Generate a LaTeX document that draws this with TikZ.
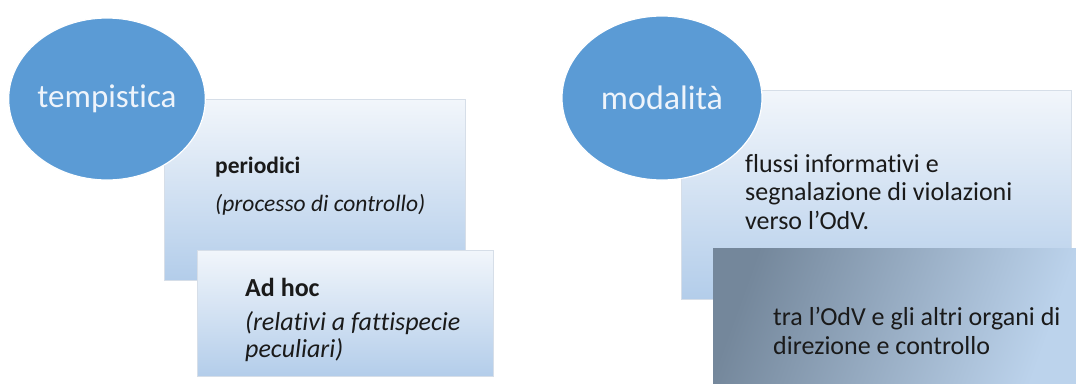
\documentclass[tikz,border=0pt]{standalone}
\usepackage{fontspec}
\setmainfont{Carlito}[Ligatures=NoCommon]
\usetikzlibrary{shapes.geometric}
\definecolor{ellblue}{HTML}{5B9BD5}
\definecolor{boxtop}{HTML}{F2F6FB}
\definecolor{boxbot}{HTML}{B3CDEA}
\definecolor{boxedge}{HTML}{D6DEE8}
\definecolor{darkleft}{HTML}{74879B}
\definecolor{lightright}{HTML}{BCD3EC}
\definecolor{txt}{HTML}{1A1A1A}
\definecolor{elltxt}{HTML}{EEF4FB}
\tikzset{
  bubble/.style={ellipse, fill=ellblue, draw=white, line width=1.2pt, text=elltxt, inner sep=0pt},
  panel/.style={draw=boxedge, line width=0.8pt, top color=boxtop, bottom color=boxbot},
  darkpanel/.style={draw=none, left color=darkleft, right color=lightright, shading angle=70},
  boxtext/.style={anchor=west, align=left, text=txt, inner sep=0pt},
  smalltext/.style={font=\fontsize{23.5}{28}\selectfont},
  bigtext/.style={font=\fontsize{26}{28.5}\selectfont}
}
\begin{document}
\begin{tikzpicture}[x=1pt,y=-1pt]
\useasboundingbox (0,0) rectangle (1076,383);
\fill[white] (0,0) rectangle (1076,383);
% left group
\path[panel] (164,99) rectangle (465,280);
\node[bubble, minimum width=192pt, minimum height=162pt, font=\fontsize{33}{36}\selectfont] (tempo) at (107,99) {tempistica};
\path[panel] (197,250) rectangle (493,376);
\node[boxtext, smalltext] (per) at (215,167) {\bfseries periodici};
\node[boxtext, smalltext] (perdesc) at (215,205) {\itshape (processo di controllo)};
\node[boxtext, font=\fontsize{26}{28}\selectfont\bfseries] (adhoc) at (245,287) {Ad hoc};
\node[boxtext, anchor=north west, font=\fontsize{26}{27}\selectfont\itshape] (adhocdesc) at (245,311) {(relativi a fattispecie\\peculiari)};
% right group
\path[panel] (681,90) rectangle (1071,299);
\node[bubble, minimum width=200pt, minimum height=164pt, font=\fontsize{34}{37}\selectfont] (moda) at (662,98) {modalità};
\path[darkpanel] (713,248) rectangle (1076,383);
\node[boxtext, bigtext, anchor=north west] (flussi) at (745,154) {flussi informativi e\\segnalazione di violazioni\\verso l’OdV.};
\node[boxtext, bigtext, anchor=north west] (tra) at (773,307) {tra l’OdV e gli altri organi di\\direzione e controllo};
\end{tikzpicture}
\end{document}
